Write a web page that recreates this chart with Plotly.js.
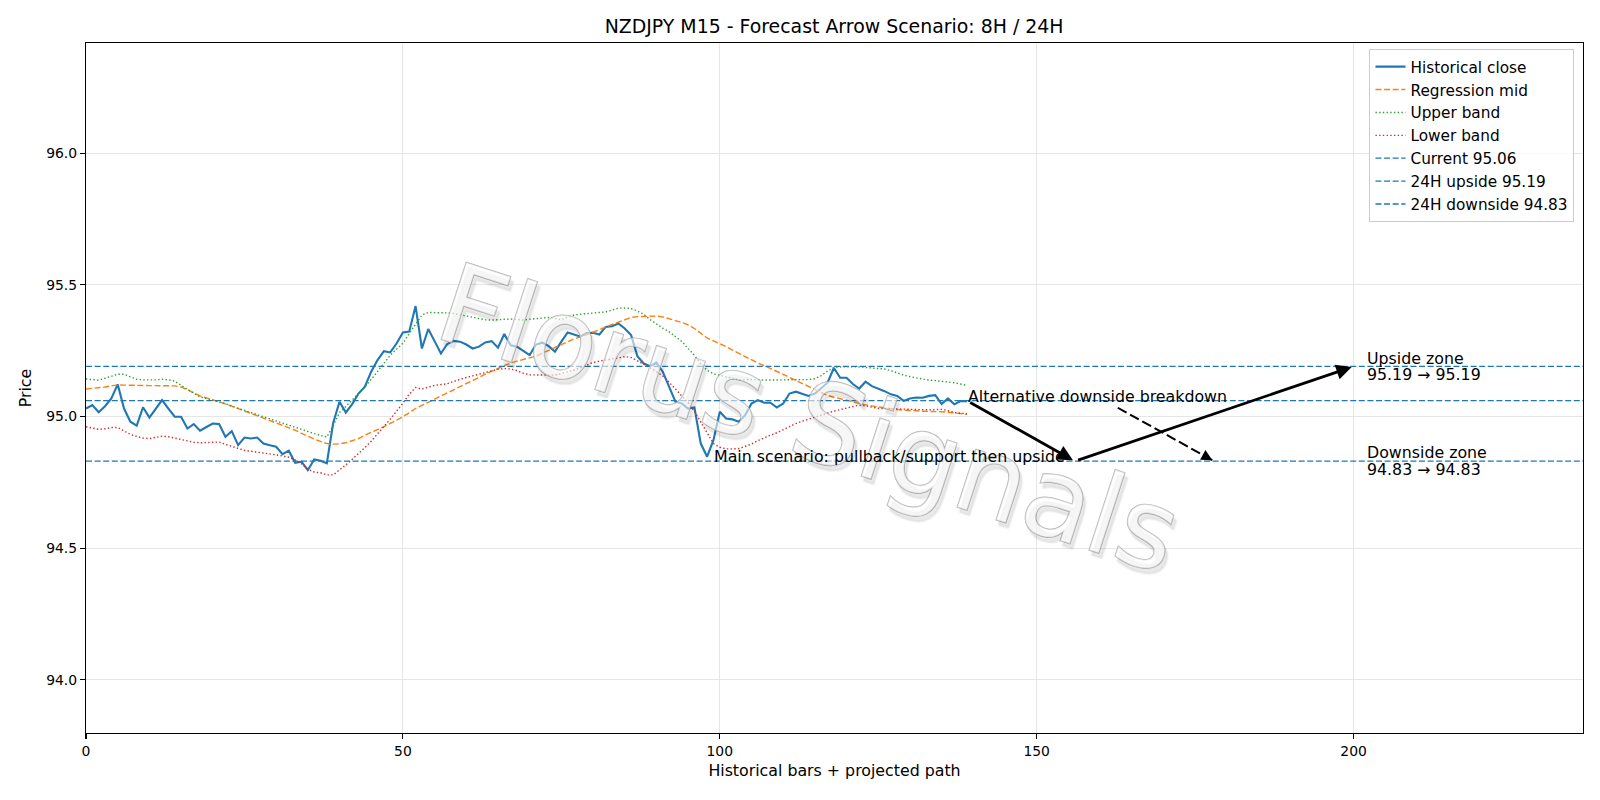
<!DOCTYPE html>
<html>
<head>
<meta charset="utf-8">
<script src="https://cdn.plot.ly/plotly-3.0.1.min.js"></script>
<style>
html,body{margin:0;padding:0;background:#fff;}
#chart{width:1600px;height:800px;}
.annotation[data-index="0"] text.annotation-text{stroke:rgba(155,155,155,0.75);stroke-width:1.4px;paint-order:stroke;}
</style>
</head>
<body>
<div id="chart"></div>
<script>
// ---- data ----
const historicalClose = [
95.030,95.043,95.016,95.039,95.068,95.122,95.030,94.980,94.965,95.035,
94.996,95.030,95.062,95.030,94.999,94.999,94.954,94.971,94.946,94.960,
94.973,94.971,94.923,94.944,94.891,94.920,94.916,94.920,94.897,94.891,
94.885,94.857,94.870,94.824,94.828,94.796,94.837,94.832,94.822,94.975,
95.056,95.015,95.047,95.087,95.113,95.170,95.214,95.248,95.243,95.277,
95.319,95.322,95.419,95.258,95.332,95.286,95.239,95.275,95.287,95.284,
95.273,95.258,95.265,95.281,95.286,95.261,95.313,95.270,95.265,95.249,
95.233,95.273,95.280,95.267,95.246,95.284,95.319,95.311,95.303,95.317,
95.318,95.311,95.340,95.343,95.353,95.334,95.309,95.229,95.201,95.191,
95.204,95.170,95.113,95.056,95.049,95.030,95.034,94.897,94.847,94.910,
95.018,94.992,94.989,94.980,95.005,95.049,95.062,95.052,95.052,95.034,
95.049,95.087,95.094,95.085,95.078,95.087,95.106,95.128,95.184,95.147,
95.147,95.123,95.106,95.132,95.115,95.106,95.096,95.084,95.078,95.059,
95.068,95.072,95.071,95.078,95.081,95.047,95.068,95.046,95.058,95.058];

const regressionMid = [
95.104,95.106,95.109,95.112,95.116,95.120,95.119,95.118,95.117,95.117,
95.117,95.117,95.117,95.117,95.116,95.112,95.102,95.090,95.078,95.071,
95.063,95.056,95.048,95.039,95.030,95.021,95.011,95.001,94.993,94.985,
94.976,94.968,94.959,94.948,94.936,94.924,94.914,94.905,94.897,94.895,
94.896,94.900,94.907,94.916,94.929,94.938,94.950,94.961,94.973,94.986,
94.999,95.014,95.030,95.042,95.054,95.066,95.078,95.090,95.102,95.114,
95.126,95.138,95.150,95.162,95.172,95.182,95.193,95.203,95.210,95.217,
95.223,95.229,95.240,95.251,95.263,95.275,95.285,95.294,95.302,95.310,
95.318,95.329,95.340,95.349,95.358,95.370,95.376,95.379,95.380,95.381,
95.381,95.378,95.372,95.364,95.357,95.348,95.334,95.315,95.298,95.287,
95.277,95.265,95.252,95.239,95.227,95.214,95.203,95.193,95.183,95.172,
95.160,95.148,95.137,95.126,95.114,95.102,95.091,95.080,95.073,95.067,
95.061,95.055,95.049,95.044,95.040,95.036,95.032,95.029,95.026,95.024,
95.022,95.021,95.020,95.019,95.019,95.018,95.016,95.013,95.010,95.008];

const upperBand = [
95.142,95.140,95.138,95.145,95.153,95.160,95.160,95.150,95.141,95.139,
95.138,95.139,95.141,95.139,95.134,95.120,95.103,95.088,95.074,95.068,
95.062,95.056,95.048,95.039,95.031,95.023,95.015,95.007,94.999,94.990,
94.983,94.975,94.966,94.957,94.950,94.943,94.935,94.928,94.922,94.965,
95.015,95.038,95.062,95.085,95.112,95.140,95.170,95.200,95.232,95.255,
95.278,95.315,95.352,95.385,95.395,95.395,95.394,95.393,95.391,95.386,
95.380,95.375,95.370,95.367,95.366,95.367,95.369,95.370,95.368,95.366,
95.369,95.371,95.374,95.376,95.372,95.368,95.377,95.385,95.388,95.390,
95.391,95.393,95.397,95.404,95.411,95.412,95.410,95.400,95.388,95.368,
95.350,95.335,95.322,95.305,95.285,95.258,95.232,95.200,95.175,95.162,
95.156,95.151,95.145,95.139,95.140,95.141,95.140,95.138,95.138,95.138,
95.139,95.140,95.140,95.138,95.140,95.143,95.155,95.172,95.186,95.188,
95.189,95.189,95.188,95.186,95.184,95.182,95.180,95.174,95.165,95.157,
95.151,95.146,95.141,95.138,95.136,95.134,95.132,95.128,95.123,95.118];

const lowerBand = [
94.961,94.955,94.951,94.953,94.958,94.958,94.945,94.932,94.924,94.918,
94.916,94.920,94.925,94.923,94.918,94.914,94.908,94.902,94.900,94.901,
94.901,94.903,94.894,94.886,94.878,94.871,94.868,94.865,94.862,94.858,
94.854,94.850,94.845,94.835,94.820,94.800,94.789,94.786,94.778,94.778,
94.796,94.816,94.837,94.858,94.882,94.906,94.933,94.960,94.990,95.020,
95.050,95.085,95.110,95.104,95.110,95.118,95.121,95.124,95.133,95.142,
95.148,95.154,95.160,95.167,95.173,95.179,95.182,95.180,95.174,95.164,
95.158,95.157,95.157,95.157,95.157,95.163,95.169,95.176,95.184,95.195,
95.205,95.210,95.214,95.219,95.224,95.227,95.224,95.212,95.198,95.185,
95.170,95.154,95.130,95.105,95.078,95.052,95.020,94.978,94.935,94.897,
94.883,94.877,94.877,94.878,94.886,94.895,94.908,94.920,94.929,94.938,
94.950,94.962,94.973,94.982,94.990,94.996,95.004,95.012,95.020,95.026,
95.032,95.038,95.043,95.040,95.035,95.031,95.030,95.029,95.028,95.027,
95.026,95.025,95.024,95.025,95.026,95.027,95.022,95.015,95.012,95.010];

const levelNames  = ["Current 95.06", "24H upside 95.19", "24H downside 94.83"];
const levelValues = [95.06, 95.19, 94.83];

// scenario paths: [x, y] points
const mainPath = [[139, 95.06], [156, 94.83], [200, 95.19]];
const altPath  = [[162.8, 95.033], [178, 94.83]];

const mainLabel = {text: "Main scenario: pullback/support then upside", x: 99, y: 94.83};
const altLabel  = {text: "Alternative downside breakdown", x: 139, y: 95.06};
const zoneLabels = [
  {lines: ["Upside zone", "95.19 → 95.19"], x: 202, y: 95.19},
  {lines: ["Downside zone", "94.83 → 94.83"], x: 202, y: 94.83}
];
const watermarkText = "Florus Signals";

const X_RANGE = [0, 236.2];
const Y_RANGE = [93.798, 96.418];
const yTicks = [94.0, 94.5, 95.0, 95.5, 96.0];
const xTicks = [0, 50, 100, 150, 200];

// ---- build ----
const FONT = "DejaVu Sans";
const TXT = 15.8;
const idx = historicalClose.map((_, i) => i);
const traces = [];
traces.push({x: idx, y: historicalClose, type: 'scatter', mode: 'lines', name: 'Historical close',
  line: {color: '#1f77b4', width: 2.1}});
traces.push({x: idx, y: regressionMid, type: 'scatter', mode: 'lines', name: 'Regression mid',
  line: {color: '#ff7f0e', width: 1.4, dash: '6px,2.6px'}});
traces.push({x: idx, y: upperBand, type: 'scatter', mode: 'lines', name: 'Upper band',
  line: {color: '#2ca02c', width: 1.4, dash: '1.4px,2.3px'}});
traces.push({x: idx, y: lowerBand, type: 'scatter', mode: 'lines', name: 'Lower band',
  line: {color: '#d62728', width: 1.4, dash: '1.4px,2.3px'}});
levelNames.forEach((nm, k) => {
  traces.push({x: X_RANGE, y: [levelValues[k], levelValues[k]], type: 'scatter', mode: 'lines', name: nm,
    line: {color: '#1f77b4', width: 1.3, dash: '6px,2.6px'}});
});
traces.push({x: altPath.map(p => p[0]), y: altPath.map(p => p[1]), type: 'scatter', mode: 'lines',
  showlegend: false, hoverinfo: 'skip', line: {color: '#000', width: 2, dash: '10px,4px'}});

const annotations = [];
annotations.push({x: 0.483, y: 0.456, xref: 'paper', yref: 'paper', text: watermarkText, showarrow: false,
  textangle: 18, xanchor: 'center', yanchor: 'middle',
  font: {family: FONT, size: 111, color: 'rgba(255,255,255,0.6)',
    shadow: '4px 4px 2px rgba(0,0,0,0.14)'}});
for (let k = 0; k < mainPath.length - 1; k++) {
  annotations.push({x: mainPath[k + 1][0], y: mainPath[k + 1][1], ax: mainPath[k][0], ay: mainPath[k][1],
    xref: 'x', yref: 'y', axref: 'x', ayref: 'y', text: '', showarrow: true,
    arrowhead: 2, arrowsize: 1.1, arrowwidth: 2.8, arrowcolor: '#000', standoff: 2, startstandoff: 2});
}
{
  const a = altPath[altPath.length - 2], b = altPath[altPath.length - 1];
  const t = 0.12;
  annotations.push({x: b[0], y: b[1], ax: b[0] - (b[0] - a[0]) * t, ay: b[1] - (b[1] - a[1]) * t,
    xref: 'x', yref: 'y', axref: 'x', ayref: 'y', text: '', showarrow: true,
    arrowhead: 2, arrowsize: 1.1, arrowwidth: 2, arrowcolor: '#000', standoff: 2});
}
[mainLabel, altLabel].forEach(l => {
  annotations.push({x: l.x, y: l.y, xref: 'x', yref: 'y', text: l.text, showarrow: false,
    xanchor: 'left', yanchor: 'bottom', yshift: -7, xshift: -1,
    font: {family: FONT, size: TXT, color: '#000'}});
});
zoneLabels.forEach(l => {
  l.lines.forEach((ln, j) => {
    annotations.push({x: l.x, y: l.y, xref: 'x', yref: 'y', text: ln, showarrow: false,
      xanchor: 'left', yanchor: 'middle', align: 'left', xshift: -1, yshift: j === 0 ? 8.4 : -8.4,
      font: {family: FONT, size: TXT, color: '#000'}});
  });
});

const layout = {
  width: 1600, height: 800,
  paper_bgcolor: '#fff', plot_bgcolor: '#fff',
  margin: {l: 86, r: 17, t: 43, b: 67, pad: 0},
  font: {family: FONT, size: 13.9, color: '#000'},
  title: {text: 'NZDJPY M15 - Forecast Arrow Scenario: 8H / 24H', font: {family: FONT, size: 18.9, color: '#000'},
    x: 0.5213, xanchor: 'center', y: 0.967, yref: 'container', yanchor: 'middle'},
  xaxis: {range: X_RANGE, tickvals: xTicks, ticktext: xTicks.map(String), showgrid: true, gridcolor: '#e6e6e6', gridwidth: 1,
    zeroline: false, showline: true, linecolor: '#000', linewidth: 1.1, mirror: true,
    ticks: 'outside', ticklen: 5, tickwidth: 1.1, tickcolor: '#000',
    tickfont: {family: FONT, size: 13.9, color: '#000'},
    title: {text: 'Historical bars + projected path', font: {family: FONT, size: TXT, color: '#000'}, standoff: 7}},
  yaxis: {range: Y_RANGE, tickvals: yTicks, ticktext: yTicks.map(v => v.toFixed(1)), showgrid: true, gridcolor: '#e6e6e6', gridwidth: 1,
    zeroline: false, showline: true, linecolor: '#000', linewidth: 1.1, mirror: true,
    ticks: 'outside', ticklen: 5, tickwidth: 1.1, tickcolor: '#000',
    tickfont: {family: FONT, size: 13.9, color: '#000'},
    title: {text: 'Price', font: {family: FONT, size: TXT, color: '#000'}, standoff: 10}},
  legend: {x: 0.9943, y: 0.991, xanchor: 'right', yanchor: 'top', xref: 'paper', yref: 'paper',
    bgcolor: 'rgba(255,255,255,0.8)', bordercolor: '#cccccc', borderwidth: 1,
    font: {family: FONT, size: 15.3, color: '#000'}, itemwidth: 30, traceorder: 'normal'},
  annotations: annotations,
  showlegend: true
};

Plotly.newPlot('chart', traces, layout, {staticPlot: true, displayModeBar: false});
</script>
</body>
</html>
